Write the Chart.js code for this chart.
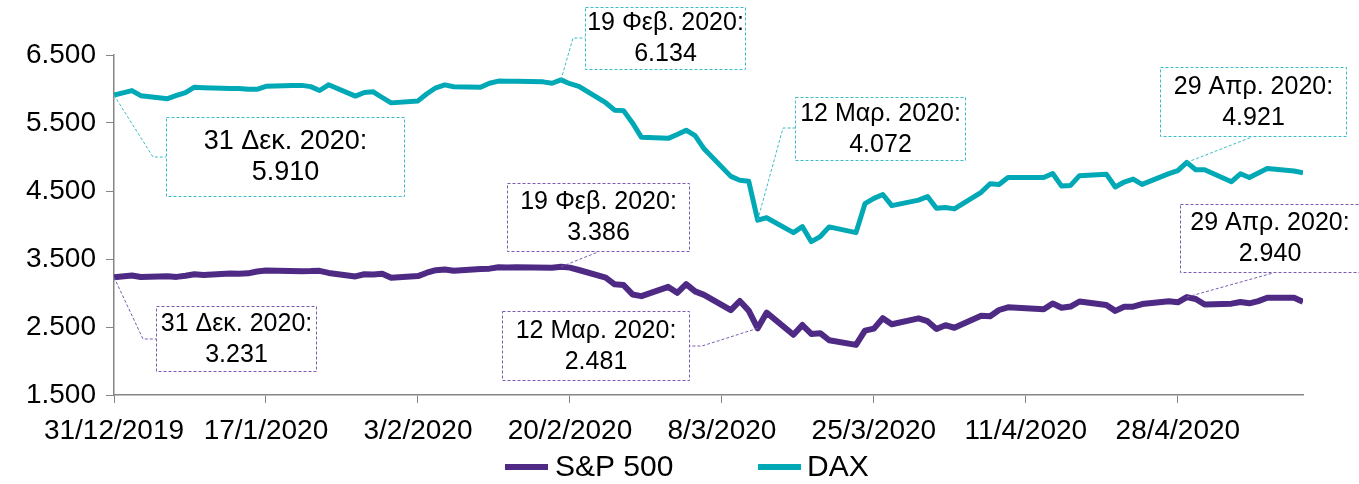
<!DOCTYPE html>
<html>
<head>
<meta charset="utf-8">
<script src="https://cdn.jsdelivr.net/npm/chart.js@4.4.1/dist/chart.umd.min.js"></script>
<style>
  html, body { margin: 0; padding: 0; background: #fff; }
</style>
</head>
<body>
<canvas id="indexChart" width="1359" height="484"></canvas>
<script>
// Trading days (one row per week)
const dates = [
    '2019-12-31',
    '2020-01-02', '2020-01-03',
    '2020-01-06', '2020-01-07', '2020-01-08', '2020-01-09', '2020-01-10',
    '2020-01-13', '2020-01-14', '2020-01-15', '2020-01-16', '2020-01-17',
    '2020-01-20', '2020-01-21', '2020-01-22', '2020-01-23', '2020-01-24',
    '2020-01-27', '2020-01-28', '2020-01-29', '2020-01-30', '2020-01-31',
    '2020-02-03', '2020-02-04', '2020-02-05', '2020-02-06', '2020-02-07',
    '2020-02-10', '2020-02-11', '2020-02-12', '2020-02-13', '2020-02-14',
    '2020-02-17', '2020-02-18', '2020-02-19', '2020-02-20', '2020-02-21',
    '2020-02-24', '2020-02-25', '2020-02-26', '2020-02-27', '2020-02-28',
    '2020-03-02', '2020-03-03', '2020-03-04', '2020-03-05', '2020-03-06',
    '2020-03-09', '2020-03-10', '2020-03-11', '2020-03-12', '2020-03-13',
    '2020-03-16', '2020-03-17', '2020-03-18', '2020-03-19', '2020-03-20',
    '2020-03-23', '2020-03-24', '2020-03-25', '2020-03-26', '2020-03-27',
    '2020-03-30', '2020-03-31', '2020-04-01', '2020-04-02', '2020-04-03',
    '2020-04-06', '2020-04-07', '2020-04-08', '2020-04-09',
    '2020-04-13', '2020-04-14', '2020-04-15', '2020-04-16', '2020-04-17',
    '2020-04-20', '2020-04-21', '2020-04-22', '2020-04-23', '2020-04-24',
    '2020-04-27', '2020-04-28', '2020-04-29', '2020-04-30', '2020-05-01',
    '2020-05-04', '2020-05-05', '2020-05-06', '2020-05-07', '2020-05-08',
    '2020-05-11', '2020-05-12'
];

const sp500 = [
    3231,
    3258, 3235,
    3246, 3237, 3253, 3275, 3265,
    3288, 3283, 3289, 3317, 3330,
    null, 3321, 3322, 3326, 3295,
    3244, 3276, 3273, 3284, 3226,
    3249, 3298, 3335, 3346, 3328,
    3352, 3358, 3379, 3374, 3380,
    null, 3370, 3386, 3373, 3338,
    3226, 3128, 3116, 2979, 2954,
    3090, 3003, 3130, 3024, 2972,
    2747, 2882, 2741, 2481, 2711,
    2386, 2529, 2398, 2409, 2305,
    2237, 2447, 2476, 2630, 2541,
    2627, 2585, 2471, 2527, 2489,
    2664, 2659, 2750, 2790,
    2762, 2846, 2783, 2800, 2875,
    2823, 2737, 2799, 2798, 2837,
    2878, 2863, 2940, 2912, 2831,
    2843, 2868, 2848, 2881, 2930,
    2930, 2870
];

const dax = [
    5910,
    5977, 5902,
    5858, 5905, 5947, 6026, 6020,
    6006, 6008, 5997, 5996, 6039,
    6050, 6053, 6035, 5978, 6062,
    5896, 5949, 5958, 5875, 5796,
    5825, 5930, 6018, 6061, 6034,
    6025, 6085, 6116, 6114, 6114,
    6105, 6085, 6134, 6078, 6040,
    5798, 5689, 5682, 5501, 5289,
    5274, 5331, 5394, 5313, 5120,
    4715, 4659, 4643, 4072, 4106,
    3888, 3976, 3755, 3830, 3972,
    3888, 4314, 4392, 4448, 4285,
    4366, 4420, 4246, 4257, 4237,
    4481, 4607, 4596, 4699,
    4699, 4758, 4572, 4582, 4726,
    4748, 4559, 4632, 4676, 4597,
    4756, 4800, 4921, 4812, 4812,
    4637, 4753, 4698, 4766, 4830,
    4795, 4768
];

const xTickLabels = ['31/12/2019', '17/1/2020', '3/2/2020', '20/2/2020', '8/3/2020', '25/3/2020', '11/4/2020', '28/4/2020'];
const yTickValues = [1500, 2500, 3500, 4500, 5500, 6500];

const seriesNames = ['S&P 500', 'DAX'];
const seriesColors = ['#4e2a84', '#00a9b5'];
const calloutColors = ['#7a5bb0', '#3cbcc6'];

// Greek-style date labels for callouts
const callouts = [
    { series: 1, date: '2019-12-31', label: '31 Δεκ. 2020:', size: 27, box: [166, 117, 405, 197], path: [[153, 157], [166, 157]] },
    { series: 1, date: '2020-02-19', label: '19 Φεβ. 2020:', size: 25, box: [585, 7, 746, 70], path: [[573, 38], [585, 38]] },
    { series: 1, date: '2020-03-12', label: '12 Μαρ. 2020:', size: 25, box: [795, 97, 966, 161], path: [[783, 128], [795, 128]] },
    { series: 1, date: '2020-04-29', label: '29 Απρ. 2020:', size: 25, box: [1160, 67, 1347, 137], path: [[1252, 137]] },
    { series: 0, date: '2019-12-31', label: '31 Δεκ. 2020:', size: 25, box: [156, 306, 317, 372], path: [[143, 339], [156, 339]] },
    { series: 0, date: '2020-02-19', label: '19 Φεβ. 2020:', size: 25, box: [507, 183, 690, 252], path: [[598, 252]] },
    { series: 0, date: '2020-03-12', label: '12 Μαρ. 2020:', size: 25, box: [502, 311, 690, 381], path: [[702, 346], [690, 346]] },
    { series: 0, date: '2020-04-29', label: '29 Απρ. 2020:', size: 25, box: [1180, 204, 1360, 273], path: [[1273, 273]] }
];

const FONT = "'Liberation Sans', Arial, sans-serif";
const BASE = Date.UTC(2019, 11, 31);

function dayOf(iso) {
    const p = iso.split('-').map(Number);
    return (Date.UTC(p[0], p[1] - 1, p[2]) - BASE) / 864e5;
}

function dayOfDMY(s) {
    const p = s.split('/').map(Number);
    return (Date.UTC(p[2], p[1] - 1, p[0]) - BASE) / 864e5;
}

function fmtNum(v) {
    return String(Math.round(v)).replace(/\B(?=(\d{3})+(?!\d))/g, '.');
}

const xDays = dates.map(dayOf);
const seriesValues = [sp500, dax];

// Callout boxes + legend drawn on top of the lines
const annotationPlugin = {
    id: 'callouts',
    afterDatasetsDraw(chart) {
        const ctx = chart.ctx;
        const xs = chart.scales.x, ys = chart.scales.y;
        ctx.save();
        callouts.forEach(c => {
            const idx = dates.indexOf(c.date);
            const v = seriesValues[c.series][idx];
            const px = xs.getPixelForValue(xDays[idx]);
            const py = ys.getPixelForValue(v);
            const [x1, y1, x2, y2] = c.box;
            ctx.strokeStyle = calloutColors[c.series];
            ctx.lineWidth = 1;
            ctx.setLineDash([3, 2]);
            ctx.beginPath();
            ctx.moveTo(px, py);
            c.path.forEach(p => ctx.lineTo(p[0], p[1]));
            ctx.stroke();
            ctx.fillStyle = '#fff';
            ctx.fillRect(x1, y1, x2 - x1, y2 - y1);
            ctx.strokeRect(x1 + 0.5, y1 + 0.5, x2 - x1 - 1, y2 - y1 - 1);
            ctx.setLineDash([]);
            ctx.fillStyle = '#000';
            ctx.font = c.size + 'px ' + FONT;
            ctx.textAlign = 'center';
            ctx.textBaseline = 'middle';
            const cx = (x1 + x2) / 2, cy = (y1 + y2) / 2;
            ctx.fillText(c.label, cx, cy - 15);
            ctx.fillText(fmtNum(v), cx, cy + 16);
        });
        ctx.restore();
    },
    afterDraw(chart) {
        const ctx = chart.ctx;
        const items = [{ x: 505, tx: 555 }, { x: 758, tx: 807 }];
        ctx.save();
        ctx.font = '30px ' + FONT;
        ctx.textAlign = 'left';
        ctx.textBaseline = 'middle';
        items.forEach((it, i) => {
            ctx.fillStyle = seriesColors[i];
            ctx.fillRect(it.x, 464, 43, 6);
            ctx.fillStyle = '#000';
            ctx.fillText(chart.data.datasets[i].label, it.tx, 468);
        });
        ctx.restore();
    }
};

const ctx = document.getElementById('indexChart').getContext('2d');

new Chart(ctx, {
    type: 'line',
    data: {
        datasets: seriesValues.map((vals, i) => ({
            label: seriesNames[i],
            data: vals.map((v, j) => ({ x: xDays[j], y: v })),
            borderColor: seriesColors[i],
            backgroundColor: seriesColors[i],
            borderWidth: i === 0 ? 6 : 5,
            pointRadius: 0,
            tension: 0,
            spanGaps: true,
            borderJoinStyle: 'round'
        }))
    },
    options: {
        responsive: false,
        animation: false,
        layout: { padding: { top: 55, right: 56, bottom: 39, left: 0 } },
        plugins: {
            legend: { display: false },
            tooltip: { enabled: false }
        },
        scales: {
            x: {
                type: 'linear',
                min: 0,
                max: xDays[xDays.length - 1],
                afterBuildTicks: s => { s.ticks = xTickLabels.map(t => ({ value: dayOfDMY(t) })); },
                afterFit: s => { s.height = 50; },
                grid: { drawOnChartArea: false, tickLength: 8, color: '#868686' },
                border: { color: '#868686', width: 1.5 },
                ticks: {
                    autoSkip: false,
                    maxRotation: 0,
                    padding: 11,
                    color: '#000',
                    font: { family: FONT, size: 28 },
                    callback: v => xTickLabels.find(t => dayOfDMY(t) === v) || ''
                }
            },
            y: {
                min: 1500,
                max: 6500,
                afterBuildTicks: s => { s.ticks = yTickValues.map(v => ({ value: v })); },
                afterFit: s => { s.width = 114; },
                grid: { drawOnChartArea: false, tickLength: 8, color: '#868686' },
                border: { color: '#868686', width: 1.5 },
                ticks: {
                    padding: 10,
                    color: '#000',
                    font: { family: FONT, size: 28 },
                    callback: v => fmtNum(v)
                }
            }
        }
    },
    plugins: [annotationPlugin]
});
</script>
</body>
</html>
